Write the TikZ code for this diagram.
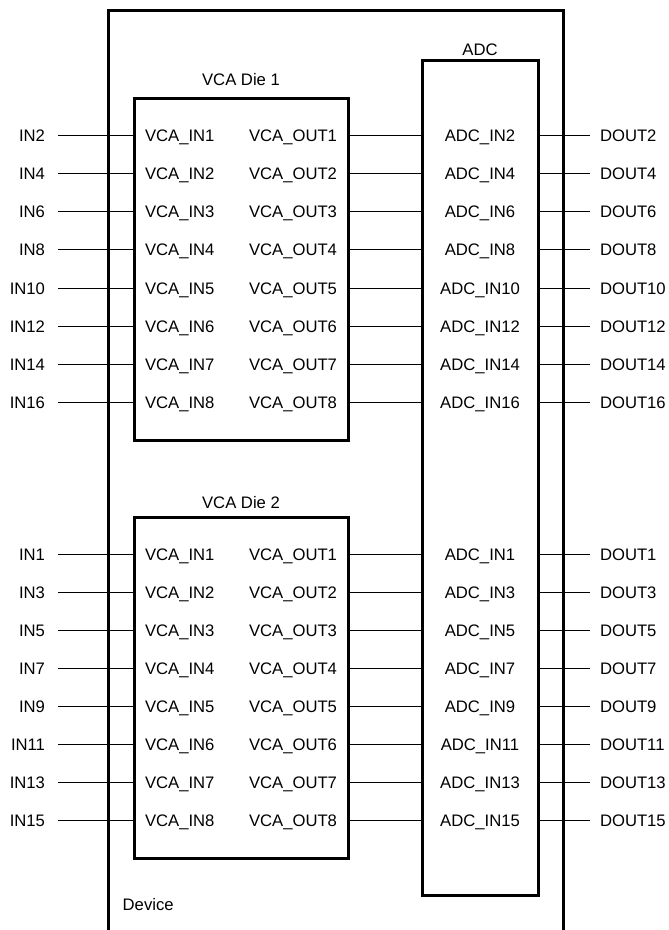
\documentclass[tikz,border=0pt]{standalone}
\usepackage{fontspec}
\setmainfont{Liberation Sans}
\usetikzlibrary{positioning}

\begin{document}
\begin{tikzpicture}[x=0.75pt,y=-0.75pt,font=\fontsize{12.5}{15}\selectfont,
  blk/.style={draw,line width=2.25pt,inner sep=0pt,outer sep=0pt},
  wire/.style={line width=0.75pt},
  pin/.style={inner xsep=8.25pt,inner ysep=0pt,outer sep=0pt,text height=9pt,text depth=0pt},
  ext/.style={pin,inner xsep=9.75pt}]
\useasboundingbox (0,0) rectangle (668,930);
% device frame, runs off the bottom
\begin{scope}
\clip (0,0) rectangle (668,930);
\draw[line width=2.25pt] (108,945) -- (108,11) -- (563,11) -- (563,945);
\end{scope}
\node[anchor=west] (dev) at (118,905) {Device};
% blocks
\node[blk,minimum width=160.5pt,minimum height=255.75pt] (die1) at (241,269.5) {};
\node[blk,minimum width=160.5pt,minimum height=255.75pt] (die2) at (241,687.5) {};
\node[blk,minimum width=87pt,minimum height=625.5pt] (adc) at (480,478) {};
\node[above=6.4pt of die1] (t1) {VCA Die 1};
\node[above=2.7pt of die2] (t2) {VCA Die 2};
\node[above=0.4pt of adc] (t3) {ADC};
% die 1 channels
\foreach \n [count=\m] in {2,4,6,8,10,12,14,16} {
  \pgfmathsetmacro\y{136+38*(\m-1)}
  \node[ext,anchor=east] (in\n) at (58,\y) {IN\n};
  \node[pin,anchor=west] (vi\n) at (134,\y) {VCA\_IN\m};
  \node[pin,anchor=east] (vo\n) at (348,\y) {VCA\_OUT\m};
  \node[pin] (ai\n) at (480,\y) {ADC\_IN\n};
  \node[pin,anchor=west,inner xsep=7.5pt] (do\n) at (590,\y) {DOUT\n};
  \draw[wire] (in\n.east) -- (vi\n.west);
  \draw[wire] (vo\n.east) -- (vo\n.east -| adc.west);
  \draw[wire] (do\n.west -| adc.east) -- (do\n.west);
}
% die 2 channels
\foreach \n [count=\m] in {1,3,5,7,9,11,13,15} {
  \pgfmathsetmacro\y{554+38*(\m-1)}
  \node[ext,anchor=east] (in\n) at (58,\y) {IN\n};
  \node[pin,anchor=west] (vi\n) at (134,\y) {VCA\_IN\m};
  \node[pin,anchor=east] (vo\n) at (348,\y) {VCA\_OUT\m};
  \node[pin] (ai\n) at (480,\y) {ADC\_IN\n};
  \node[pin,anchor=west,inner xsep=7.5pt] (do\n) at (590,\y) {DOUT\n};
  \draw[wire] (in\n.east) -- (vi\n.west);
  \draw[wire] (vo\n.east) -- (vo\n.east -| adc.west);
  \draw[wire] (do\n.west -| adc.east) -- (do\n.west);
}
\end{tikzpicture}
\end{document}
